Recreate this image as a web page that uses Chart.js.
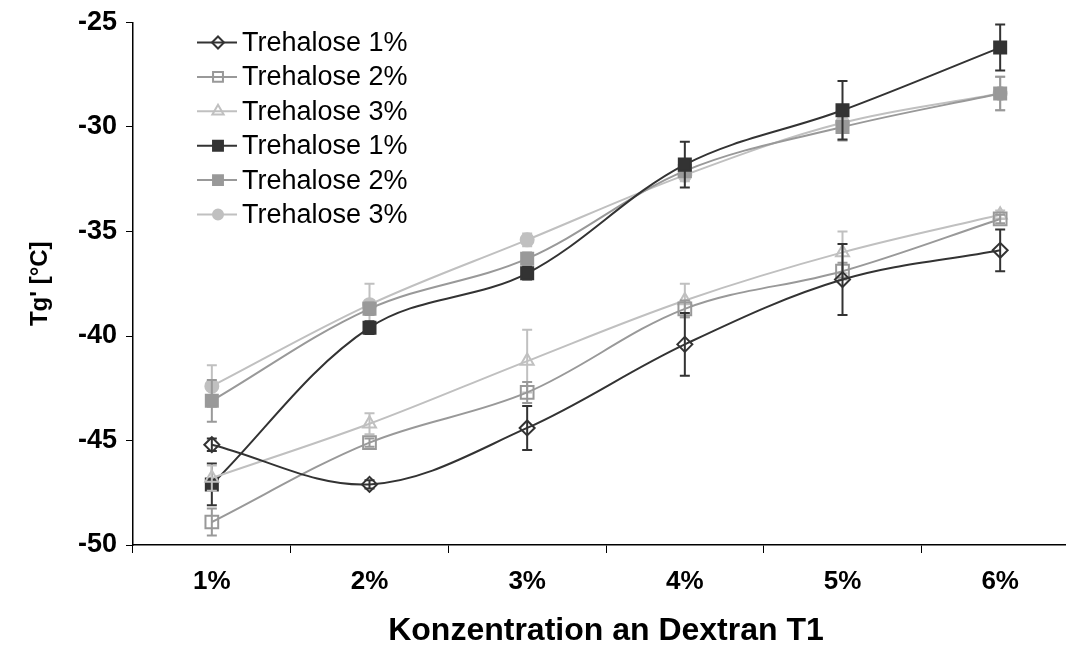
<!DOCTYPE html>
<html>
<head>
<meta charset="utf-8">
<script src="https://cdn.jsdelivr.net/npm/chart.js@4"></script>
<style>
  html, body { margin: 0; padding: 0; background: #fff; overflow: hidden; }
  #wrap { width: 1090px; height: 650px; }
</style>
</head>
<body>
<div id="wrap"><canvas id="tgChart"></canvas></div>
<script>
const categories = ["1%", "2%", "3%", "4%", "5%", "6%"];
const seriesNames = ["Trehalose 1%", "Trehalose 2%", "Trehalose 3%", "Trehalose 1%", "Trehalose 2%", "Trehalose 3%"];
const yTicks = [-50, -45, -40, -35, -30, -25];

// mean Tg' values
const tre1Open = [-45.2, -47.1, -44.4, -40.4, -37.3, -35.9];
const tre2Open = [-48.9, -45.1, -42.7, -38.7, -36.9, -34.4];
const tre3Open = [-46.8, -44.2, -41.2, -38.3, -36.0, -34.2];
const tre1Fill = [-47.1, -39.6, -37.0, -31.8, -29.2, -26.2];
const tre2Fill = [-43.1, -38.7, -36.3, -32.1, -30.0, -28.4];
const tre3Fill = [-42.4, -38.5, -35.4, -32.3, -29.8, -28.4];

// standard deviations
const tre1OpenErr = [0.3, 0.2, 1.05, 1.5, 1.7, 1.0];
const tre2OpenErr = [0.65, 0.2, 0.5, 0.4, 0.4, 0.2];
const tre3OpenErr = [0.6, 0.5, 1.5, 0.8, 1.0, 0.2];
const tre1FillErr = [1.0, 0.3, 0.3, 1.1, 1.4, 1.1];
const tre2FillErr = [1.0, 0.3, 0.3, 0.3, 0.65, 0.8];
const tre3FillErr = [1.0, 1.0, 0.3, 0.3, 0.3, 0.8];

const DARK = "#333333";
const MID = "#999999";
const LIGHT = "#c0c0c0";
const FONT = "'Liberation Sans', Arial, sans-serif";

function makeSeries(i, data, err, color, style, filled, radius) {
  return {
    label: seriesNames[i],
    data: data,
    errors: err,
    borderColor: color,
    backgroundColor: color,
    borderWidth: 2,
    pointStyle: style,
    pointRadius: radius,
    pointBorderColor: color,
    pointBackgroundColor: filled ? color : "rgba(255,255,255,0)",
    pointBorderWidth: 2,
    tension: 0.35,
    fill: false,
  };
}

const datasets = [
  makeSeries(0, tre1Open, tre1OpenErr, DARK, "rectRot", false, 7.5),
  makeSeries(1, tre2Open, tre2OpenErr, MID, "rect", false, 9),
  makeSeries(2, tre3Open, tre3OpenErr, LIGHT, "triangle", false, 7.5),
  makeSeries(3, tre1Fill, tre1FillErr, DARK, "rect", true, 8.5),
  makeSeries(4, tre2Fill, tre2FillErr, MID, "rect", true, 8.5),
  makeSeries(5, tre3Fill, tre3FillErr, LIGHT, "circle", true, 6.5),
];

// vertical error bars with caps, drawn just before each dataset's line/markers
const errorBars = {
  id: "errorBars",
  beforeDatasetDraw(chart, args) {
    const ds = chart.data.datasets[args.index];
    const meta = args.meta;
    const y = chart.scales.y;
    const ctx = chart.ctx;
    ctx.save();
    ctx.strokeStyle = ds.borderColor;
    ctx.lineWidth = 2;
    meta.data.forEach((pt, j) => {
      const e = ds.errors[j];
      const yTop = y.getPixelForValue(ds.data[j] + e);
      const yBot = y.getPixelForValue(ds.data[j] - e);
      ctx.beginPath();
      ctx.moveTo(pt.x, yTop);
      ctx.lineTo(pt.x, yBot);
      ctx.moveTo(pt.x - 5, yTop);
      ctx.lineTo(pt.x + 5, yTop);
      ctx.moveTo(pt.x - 5, yBot);
      ctx.lineTo(pt.x + 5, yBot);
      ctx.stroke();
    });
    ctx.restore();
  },
};

// legend inside the plot, top left
const insideLegend = {
  id: "insideLegend",
  afterDraw(chart) {
    const ctx = chart.ctx;
    const area = chart.chartArea;
    const x0 = area.left + 64;
    const y0 = area.top + 20;
    ctx.save();
    chart.data.datasets.forEach((ds, i) => {
      const yy = y0 + i * 34.4;
      ctx.strokeStyle = ds.borderColor;
      ctx.lineWidth = 2;
      ctx.beginPath();
      ctx.moveTo(x0, yy);
      ctx.lineTo(x0 + 40, yy);
      ctx.stroke();
      ctx.fillStyle = ds.pointBackgroundColor;
      ctx.strokeStyle = ds.pointBorderColor;
      const r = { rectRot: 6, rect: 7, triangle: 6.5, circle: 5 }[ds.pointStyle];
      Chart.helpers.drawPoint(ctx, {
        pointStyle: ds.pointStyle,
        radius: r,
        borderWidth: 1.5,
        rotation: 0,
      }, x0 + 21, yy);
      ctx.fillStyle = "#000";
      ctx.font = "27px " + FONT;
      ctx.textBaseline = "middle";
      ctx.textAlign = "left";
      ctx.fillText(ds.label, x0 + 45, yy + 1);
    });
    ctx.restore();
  },
};

new Chart(document.getElementById("tgChart"), {
  type: "line",
  data: { labels: categories, datasets: datasets },
  plugins: [errorBars, insideLegend],
  options: {
    responsive: true,
    maintainAspectRatio: false,
    animation: false,
    layout: { padding: { top: 20, right: 2, left: 0, bottom: 0 } },
    plugins: {
      legend: { display: false },
      tooltip: { enabled: false },
    },
    scales: {
      x: {
        offset: true,
        afterFit: (scale) => { scale.height = 105; },
        grid: {
          offset: true,
          drawOnChartArea: false,
          color: "#000",
          tickLength: 8,
          tickWidth: 1,
        },
        border: { color: "#000", width: 1.5 },
        ticks: {
          color: "#000",
          padding: 13,
          font: { family: FONT, size: 26, weight: "bold" },
        },
        title: {
          display: true,
          text: "Konzentration an Dextran T1",
          color: "#000",
          padding: { top: 0, bottom: 0 },
          font: { family: FONT, size: 32, weight: "bold" },
        },
      },
      y: {
        min: -50,
        max: -25,
        afterFit: (scale) => { scale.width = 133; },
        afterBuildTicks: (scale) => { scale.ticks = yTicks.map((v) => ({ value: v })); },
        grid: {
          drawOnChartArea: false,
          color: "#000",
          tickLength: 7,
          tickWidth: 1,
        },
        border: { color: "#000", width: 1.5 },
        ticks: {
          color: "#000",
          padding: 9,
          font: { family: FONT, size: 27, weight: "bold", lineHeight: 1 },
        },
        title: {
          display: true,
          text: "Tg' [°C]",
          color: "#000",
          padding: { top: 26, bottom: 0 },
          font: { family: FONT, size: 24, weight: "bold" },
        },
      },
    },
  },
});
</script>
</body>
</html>
